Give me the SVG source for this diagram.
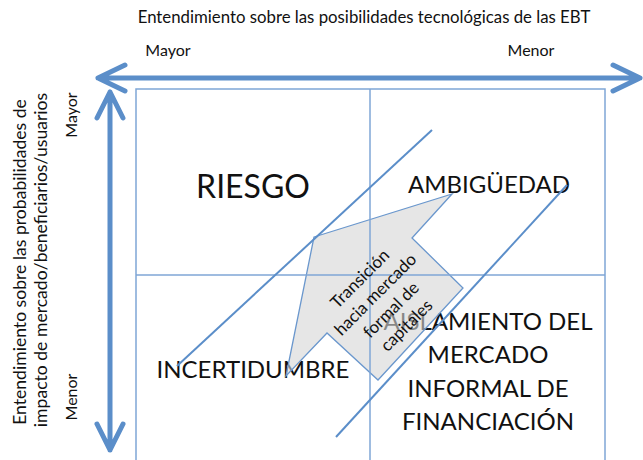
<svg xmlns="http://www.w3.org/2000/svg" width="643" height="460" viewBox="0 0 643 460">
<style>
.t{font-family:Lato,"Open Sans","Liberation Sans",sans-serif;fill:#111}
.axis{stroke:#5b8ec9;stroke-width:5;fill:none;stroke-linecap:round;stroke-linejoin:round}
.grid{stroke:#7fa6d6;stroke-width:1.5;fill:none}
.diag{stroke:#5b8ec9;stroke-width:2;fill:none}
.big{font-size:24px;text-anchor:middle}
.side{font-size:17.6px;text-anchor:middle}
</style>
<rect width="643" height="460" fill="#fff"/>
<g id="titles">
<text class="t" x="364" y="23" font-size="16.8" text-anchor="middle">Entendimiento sobre las posibilidades tecnológicas de las EBT</text>
<text class="t" x="168" y="56" font-size="16" text-anchor="middle">Mayor</text>
<text class="t" x="531" y="56" font-size="16" text-anchor="middle">Menor</text>
<text class="t side" transform="translate(26,262) rotate(-90)">Entendimiento sobre las probabilidades de</text>
<text class="t side" transform="translate(47,260) rotate(-90)">impacto de mercado/beneficiarios/usuarios</text>
<text class="t" transform="translate(77,115) rotate(-90)" font-size="16" text-anchor="middle">Mayor</text>
<text class="t" transform="translate(77,397) rotate(-90)" font-size="16" text-anchor="middle">Menor</text>
</g>
<g id="axes">
<path class="axis" d="M98,78 L640,78 M125,65 L98,78 L125,91 M613,65 L640,78 L613,91"/>
<path class="axis" d="M110,92 L110,450 M97,118 L110,92 L123,118 M97,424 L110,450 L123,424"/>
</g>
<g id="quadrant-labels">
<text class="t" x="253" y="198" font-size="32" text-anchor="middle">RIESGO</text>
<text class="t big" x="489" y="193">AMBIGÜEDAD</text>
<text class="t big" x="253" y="378">INCERTIDUMBRE</text>
<text class="t big" x="488" y="330">AISLAMIENTO DEL</text>
<text class="t big" x="488" y="363">MERCADO</text>
<text class="t big" x="488" y="397">INFORMAL DE</text>
<text class="t big" x="488" y="430">FINANCIACIÓN</text>
</g>
<g id="transition-arrow">
<polygon points="314,237 452,194 412,238 463,288 378,380 327,333 286,376" fill="#d5d5d5" fill-opacity="0.6" stroke="#6a97cd" stroke-width="1.3" stroke-linejoin="miter"/>
</g>
<g id="connectors">
<rect class="grid" x="136" y="89" width="469" height="390"/>
<line class="grid" x1="370" y1="89" x2="370" y2="470"/>
<line class="grid" x1="136" y1="275" x2="605" y2="275"/>
<line class="diag" x1="432" y1="130" x2="177" y2="366"/>
<line class="diag" x1="567" y1="185" x2="336" y2="437"/>
</g>
<g id="transition-label">
<text class="t" transform="translate(383,302) rotate(-45)" font-size="17" text-anchor="middle"><tspan x="0" y="-27">Transición</tspan><tspan x="0" y="-5">hacia mercado</tspan><tspan x="0" y="17">formal de</tspan><tspan x="0" y="39">capitales</tspan></text>
</g>
</svg>
